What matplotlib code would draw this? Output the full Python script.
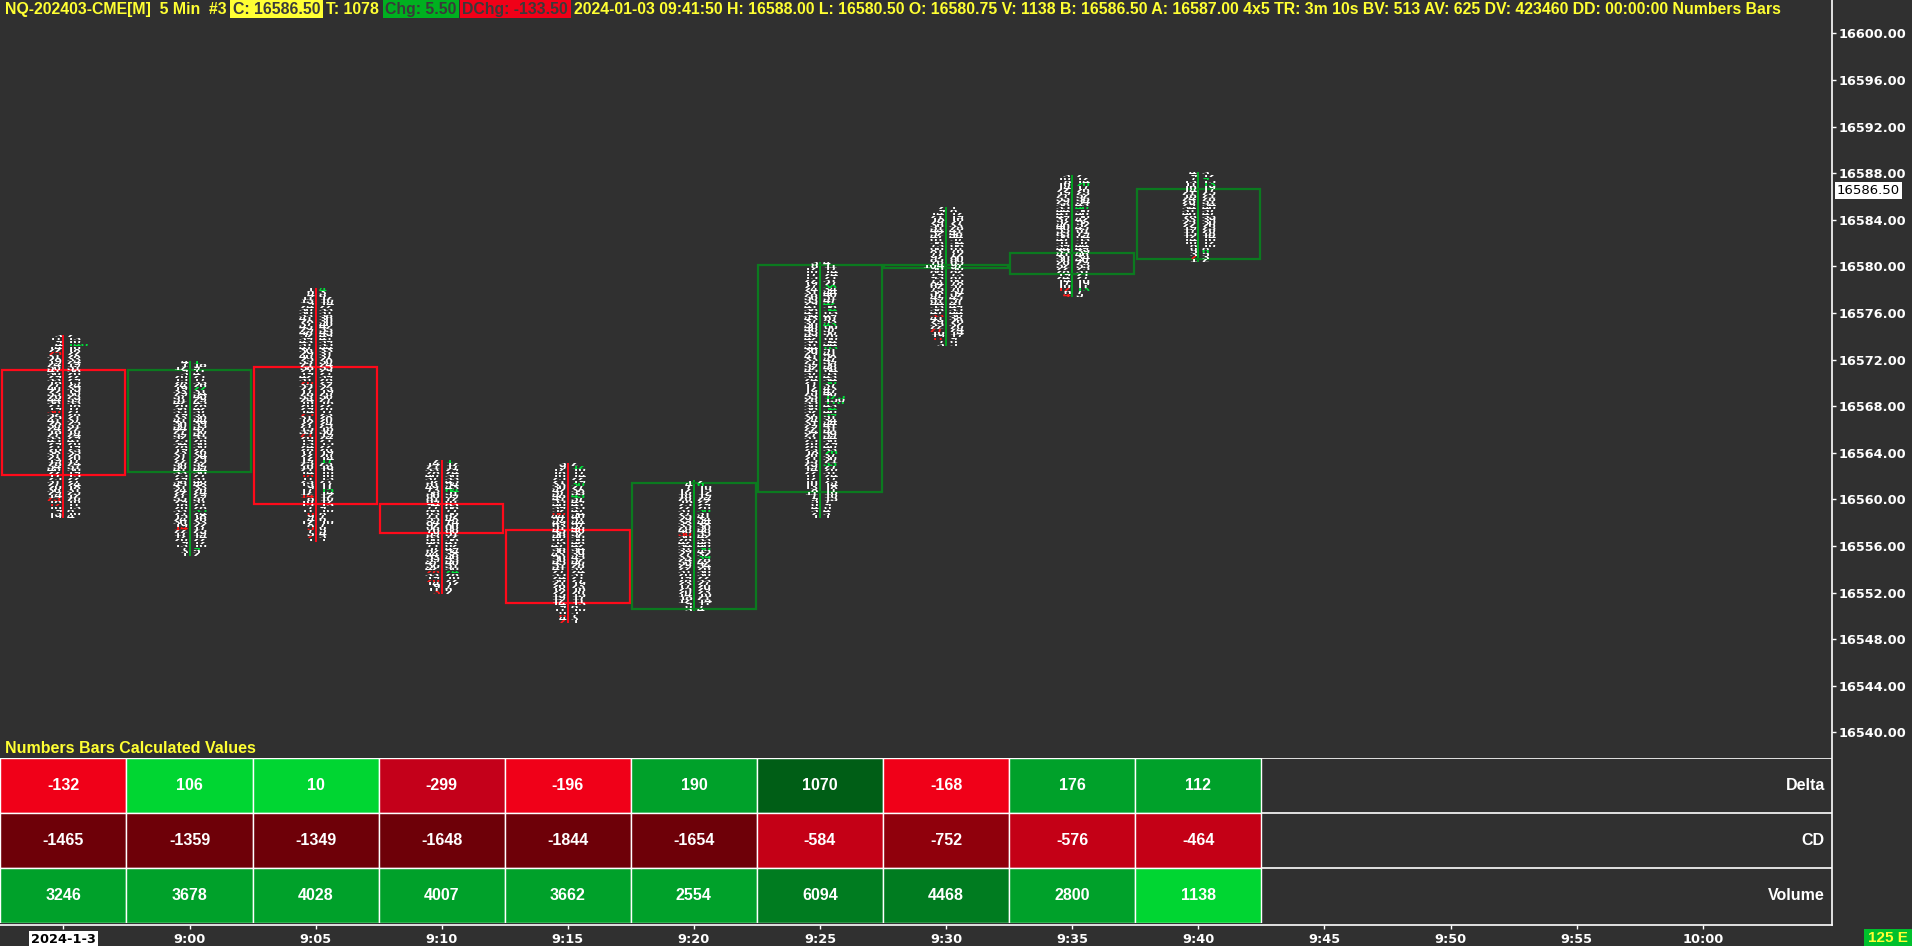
#!/usr/bin/env python3
"""Numbers bars (footprint) chart for NQ 5 min with a calculated-values table."""

import numpy as np
import matplotlib
matplotlib.use('Agg')
import matplotlib.pyplot as plt
from matplotlib.patches import Rectangle
from matplotlib.transforms import Bbox, TransformedBbox, IdentityTransform, blended_transform_factory

# ---- bar data -------------------------------------------------------------
times = ['2024-1-3', '9:00', '9:05', '9:10', '9:15', '9:20', '9:25',
         '9:30', '9:35', '9:40', '9:45', '9:50', '9:55', '10:00']
opens = [16571.00, 16562.50, 16571.25, 16559.50, 16557.25,
         16550.75, 16560.75, 16580.00, 16579.50, 16580.75]
highs = [16574.00, 16571.75, 16578.00, 16563.25, 16563.00,
         16561.50, 16580.25, 16585.00, 16587.75, 16588.00]
lows = [16558.50, 16555.25, 16556.50, 16552.00, 16549.50,
        16550.50, 16558.50, 16573.25, 16577.50, 16580.50]
closes = [16562.25, 16571.00, 16559.75, 16557.25, 16551.25,
          16561.25, 16580.00, 16580.00, 16581.00, 16586.50]

# bid / ask volume per price level, listed from the high down to the low
bid_vol = [
    """3 11 9 4 14 22 25 31 28 19 24 36 41 30 29 33 18 27 40 22
       35 26 44 38 21 19 30 32 25 41 28 36 24 18 27 33 45 29 21 26
       38 31 23 19 28 34 40 22 17 25 31 27 20 36 29 14 23 18 12 16
       9 13 19""",
    """4 1 12 9 3 20 15 28 24 19 33 29 37 31 42 26 38 35 29 33
       41 36 30 44 27 39 32 25 34 28 19 23 31 27 22 30 36 41 33 25
       29 38 45 31 24 22 27 35 29 18 26 33 21 15 24 30 19 14 22 17
       12 20 9 13 7 3 1""",
    """1 6 4 11 13 9 24 30 36 33 41 28 37 45 29 48 52 39 43 31
       47 36 29 40 25 33 21 38 27 19 42 31 26 35 22 17 28 33 24 16
       20 29 14 25 31 18 22 27 15 33 21 26 19 13 24 28 17 22 12 19
       25 16 21 14 18 11 23 15 9 17 12 14 8 10 15 7 11 6 9 4
       12 8 5 7 3 2 1""",
    """2 14 21 33 28 40 37 52 61 49 73 58 66 81 69 94 77 88 63 71
       55 84 92 68 76 59 83 66 48 71 57 62 44 53 39 47 36 42 28 33
       19 26 14 9 11 3""",
    """3 9 12 18 16 25 21 33 30 42 37 48 41 55 46 39 52 60 44 57
       49 63 51 45 58 40 62 53 47 38 56 43 50 36 45 31 41 27 35 24
       30 21 26 18 22 15 19 12 14 9 11 6 8 4 2""",
    """1 4 7 12 10 16 20 18 25 22 31 27 35 29 38 33 26 40 30 36
       28 42 34 31 39 27 33 24 36 29 22 31 26 19 28 23 17 25 20 14
       18 12 9 6 3""",
    """3 8 12 10 17 15 22 19 27 24 31 28 36 33 29 41 38 45 34 43
       37 30 46 40 35 49 42 38 31 44 36 29 41 33 27 39 32 45 37 30
       24 21 17 12 19 26 33 28 35 30 38 32 27 36 24 31 29 22 34 27
       31 25 20 28 23 18 26 21 15 23 19 14 22 17 12 16 10 13 8 11
       7 9 5 6 4 3 2 1""",
    """2 9 14 21 18 29 36 31 44 52 47 61 58 73 66 81 77 92 85 70
       104 96 88 79 93 71 84 62 75 58 67 49 61 44 53 38 47 33 41 29
       35 22 27 16 19 11 7 3""",
    """3 10 8 16 14 22 19 27 33 29 38 35 44 41 49 37 52 46 40 55
       83 58 47 51 39 44 35 41 30 36 26 32 22 28 19 24 14 17 10 12
       6 4""",
    """4 9 7 13 11 16 14 21 18 24 26 29 34 31 40 28 33 25 22 19
       17 15 12 14 10 8 6 5 3 2 1""",
]
ask_vol = [
    """2 13 10 140 16 18 22 28 33 24 19 31 38 26 22 29 15 24 35 19
       30 23 39 33 18 17 27 28 21 37 25 31 22 16 24 29 41 26 19 23
       35 28 20 17 24 31 36 19 15 22 27 24 18 31 25 12 20 16 11 13
       8 10 4""",
    """1 18 9 11 4 21 17 33 26 22 31 34 40 29 45 28 42 37 31 36
       44 39 33 47 30 41 35 28 36 30 22 26 34 29 25 32 39 44 36 27
       31 40 48 33 26 24 29 37 31 21 28 35 24 18 26 33 22 17 25 19
       14 22 12 16 9 5 2""",
    """4 3 8 12 10 14 22 33 31 38 36 30 40 42 33 45 49 41 39 35
       44 33 31 37 28 30 24 35 29 21 39 28 29 32 25 19 26 30 27 18
       22 26 17 23 28 20 24 25 18 30 19 24 21 15 22 26 19 20 14 17
       23 18 19 16 16 13 21 17 11 15 14 12 10 12 13 9 10 8 7 6
       10 7 6 5 4 3 1""",
    """1 12 17 29 24 36 33 45 54 43 64 51 59 72 61 83 68 77 56 62
       48 74 80 60 66 51 72 58 41 62 49 54 38 46 33 40 31 36 24 28
       16 22 12 7 6 2""",
    """2 12 10 17 14 22 19 30 27 38 33 43 37 49 41 35 47 54 40 51
       44 57 46 40 52 36 56 48 42 34 50 39 45 32 40 28 37 24 31 21
       27 19 23 16 20 13 17 11 13 8 10 5 7 3 1""",
    """2 6 10 15 12 19 24 22 29 26 36 31 41 34 44 38 30 46 35 42
       33 48 40 36 45 32 39 28 42 34 26 36 30 22 33 27 20 29 23 16
       21 14 11 7 4""",
    """4 11 17 14 24 21 31 27 38 34 44 40 51 47 42 58 54 63 49 61
       53 43 66 57 50 70 60 54 44 63 51 41 58 47 39 56 46 64 53 43
       34 30 37 43 47 40 125 150 110 43 54 46 39 51 34 44 41 31 48 39
       44 36 29 40 33 26 37 30 21 33 27 20 31 24 17 23 14 18 11 16
       10 13 7 9 6 4 3 1""",
    """1 8 12 19 16 27 33 28 41 48 44 57 54 68 61 76 72 86 80 65
       97 90 82 73 87 66 78 57 70 54 62 45 57 41 49 35 44 30 38 26
       32 20 24 14 17 9 6 5""",
    """2 12 14 20 17 26 23 32 38 34 43 40 50 46 56 42 58 52 45 61
       79 64 53 57 44 49 39 46 34 40 29 35 25 31 21 27 16 19 11 13
       7 5""",
    """3 12 9 15 13 19 17 25 21 28 31 34 40 37 47 33 39 30 26 23
       20 18 14 16 12 10 8 6 5 3 2""",
]

# imbalance levels: bid side shown red, ask side shown green
bid_imbalance = [
    [16572.50, 16567.50, 16560.00, 16559.50],
    [16557.50],
    [16570.00, 16567.25, 16565.50, 16562.00, 16560.25, 16558.75, 16557.50, 16556.75],
    [16553.75, 16553.00, 16552.00],
    [16558.75, 16550.00, 16549.50],
    [16557.00],
    [],
    [16575.75, 16574.50, 16573.75],
    [16578.00, 16577.50],
    [16580.75],
]
ask_imbalance = [
    [16573.25],
    [16571.75, 16569.50, 16559.00, 16555.75],
    [16578.00, 16563.25, 16560.75],
    [16563.25, 16560.75, 16553.75],
    [16562.75, 16561.25, 16560.25],
    [16561.25, 16559.00, 16555.75, 16555.00],
    [16578.25, 16576.75, 16576.25, 16575.00, 16573.00, 16570.00,
     16568.75, 16568.25, 16567.75, 16567.25, 16564.00, 16563.00],
    [],
    [16587.00, 16585.00, 16578.00],
    [16587.50, 16587.00, 16581.25],
]

# calculated values table
delta = [-132, 106, 10, -299, -196, 190, 1070, -168, 176, 112]
cum_delta = [-1465, -1359, -1349, -1648, -1844, -1654, -584, -752, -576, -464]
volume = [3246, 3678, 4028, 4007, 3662, 2554, 6094, 4468, 2800, 1138]
row_names = ['Delta', 'CD', 'Volume']

y_ticks = np.arange(16540, 16601, 4)
last_price = 16586.50
tick_size = 0.25

# ---- styling ---------------------------------------------------------------
BG = '#303030'
YELLOW = '#ffff33'
UP_BOX = '#0b7a1f'
UP_LINE = '#00a321'
DN_BOX = '#ff0a1a'
TXT_RED = '#ff1a1a'
TXT_GREEN = '#00e03a'
SANS = 'Liberation Sans'
W, H = 1912, 946


def delta_color(d, v):
    r = abs(d) / v
    if d >= 0:
        return '#00d632' if r < 0.06 else ('#00a12a' if r < 0.15 else '#005e16')
    return '#f00018' if r < 0.06 else ('#c4001a' if r < 0.15 else '#6e0008')


def cd_color(c):
    if c >= 0:
        return '#00a12a'
    a = abs(c)
    return '#6e0008' if a >= 1000 else ('#90000c' if a >= 700 else '#c40016')


def volume_color(v):
    return '#007c20' if v >= 4200 else ('#00a12a' if v >= 2000 else '#00d632')


fig = plt.figure(figsize=(W / 100, H / 100), dpi=100, facecolor=BG)

# price pane: pixel rows 0..925, price axis at x=1832
ax = fig.add_axes([0, (H - 925) / H, 1832 / W, 925 / H])
ax.set_facecolor(BG)
px_per_pt = 11.65
ax.set_ylim(16600 - (925 - 33.3) / px_per_pt, 16600 + 33.3 / px_per_pt)
ax.set_xlim(-63.4 / 126.1, (1832 - 63.4) / 126.1)
for side in ('top', 'left'):
    ax.spines[side].set_visible(False)
for side in ('right', 'bottom'):
    ax.spines[side].set_color('white')
    ax.spines[side].set_linewidth(1.2)

ax.yaxis.tick_right()
ax.set_yticks(y_ticks)
ax.set_yticklabels([f'{v:.2f}' for v in y_ticks])
ax.tick_params(axis='y', colors='white', length=3, width=1, pad=1.5, labelsize=9.3)
ax.set_xticks(range(len(times)))
ax.set_xticklabels(times)
ax.tick_params(axis='x', colors='white', length=3, width=1, pad=2.5, labelsize=9.3)
for lab in ax.get_yticklabels() + ax.get_xticklabels():
    lab.set_fontweight('bold')
    lab.set_family('DejaVu Sans')
date_lab = ax.get_xticklabels()[0]
date_lab.set_color('black')
date_lab.set_bbox(dict(facecolor='white', edgecolor='none', boxstyle='square,pad=0.15'))

# last price tag on the scale
ax.text(1.0027, last_price, f'{last_price:.2f}',
        transform=blended_transform_factory(ax.transAxes, ax.transData),
        ha='left', va='center', fontsize=9.5, color='black', family='DejaVu Sans',
        bbox=dict(facecolor='white', edgecolor='none', boxstyle='square,pad=0.12'),
        clip_on=False)

# ---- footprint bars --------------------------------------------------------
FP_SIZE = 9.5
for i in range(len(opens)):
    o, c, hi, lo = opens[i], closes[i], highs[i], lows[i]
    up = c >= o
    ax.plot([i, i], [lo - tick_size / 2, hi + tick_size / 2],
            color=UP_LINE if up else DN_BOX, lw=1.4, zorder=2,
            solid_capstyle='butt')
    body_lo = min(o, c) - tick_size / 2
    body_h = abs(c - o) + tick_size
    ax.add_patch(Rectangle((i - 0.49, body_lo), 0.98, body_h, fill=False,
                           edgecolor=UP_BOX if up else DN_BOX, lw=1.6, zorder=3))

    bids = [int(v) for v in bid_vol[i].split()]
    asks = [int(v) for v in ask_vol[i].split()]
    levels = hi - tick_size * np.arange(len(bids))
    red_set = set(bid_imbalance[i])
    green_set = set(ask_imbalance[i])
    for p, b, a in zip(levels, bids, asks):
        # each level is clipped to its own row so the stacked numbers stay striped
        clip = TransformedBbox(Bbox([[i - 0.5, p - 0.11], [i + 0.5, p + 0.11]]),
                               ax.transData)
        tb = ax.text(i - 0.013, p, str(b), ha='right', va='center',
                     fontsize=FP_SIZE, fontweight='bold', family=SANS,
                     color=TXT_RED if p in red_set else 'white',
                     clip_on=True, zorder=4)
        tb.set_clip_box(clip)
        ta = ax.text(i + 0.024, p, str(a), ha='left', va='center',
                     fontsize=FP_SIZE, fontweight='bold', family=SANS,
                     color=TXT_GREEN if p in green_set else 'white',
                     clip_on=True, zorder=4)
        ta.set_clip_box(clip)

# ---- calculated values table ----------------------------------------------
axt = fig.add_axes([0, (H - 923) / H, 1832 / W, (923 - 758) / H], sharex=ax)
axt.set_facecolor('none')
axt.set_ylim(0, 3)
axt.axis('off')
for y in (1, 2, 3):
    axt.axhline(y, color='white', lw=1.2, zorder=1)

rows = [(2, delta, [delta_color(d, v) for d, v in zip(delta, volume)]),
        (1, cum_delta, [cd_color(c) for c in cum_delta]),
        (0, volume, [volume_color(v) for v in volume])]
for y0, values, colors in rows:
    for i, (v, col) in enumerate(zip(values, colors)):
        axt.add_patch(Rectangle((i - 0.5, y0), 1, 1, facecolor=col,
                                edgecolor='white', lw=1.0, zorder=2))
        axt.text(i, y0 + 0.5, str(v), ha='center', va='center', color='white',
                 fontsize=11.5, fontweight='bold', family=SANS, zorder=3)

for k, name in enumerate(row_names):
    axt.text(1825 / 1832, 2.5 - k, name, transform=blended_transform_factory(axt.transAxes, axt.transData),
             ha='right', va='center', color='white', fontsize=11.5,
             fontweight='bold', family=SANS)

fig.text(5, H - 748, 'Numbers Bars Calculated Values', transform=IdentityTransform(),
         ha='left', va='center', color=YELLOW, fontsize=11.5, fontweight='bold', family=SANS)

# ---- header line -----------------------------------------------------------
header_runs = [
    ('NQ-202403-CME[M]  5 Min  #3', YELLOW, None),
    ('C: 16586.50', '#3a3a3a', '#ffff33'),
    ('T: 1078', YELLOW, None),
    ('Chg: 5.50', '#3a3a3a', '#00b020'),
    ('DChg: -133.50', '#3a3a3a', '#f00018'),
    ('2024-01-03 09:41:50 H: 16588.00 L: 16580.50 O: 16580.75 V: 1138 '
     'B: 16586.50 A: 16587.00 4x5 TR: 3m 10s BV: 513 AV: 625 DV: 423460 '
     'DD: 00:00:00 Numbers Bars', YELLOW, None),
]
renderer = fig.canvas.get_renderer()
gap = 6


def run_width(s, fs):
    t = fig.text(0, 0, s, fontsize=fs, fontweight='bold', family=SANS)
    w = t.get_window_extent(renderer).width
    t.remove()
    return w


fs = 11.0
text_w = sum(run_width(s, fs) for s, _, _ in header_runs)
fs *= (1779 - gap * (len(header_runs) - 1)) / text_w

x = 5
for s, fg, bg in header_runs:
    t = fig.text(x, H - 9, s, transform=IdentityTransform(), ha='left', va='center',
                 fontsize=fs, fontweight='bold', family=SANS, color=fg, zorder=5)
    w = t.get_window_extent(renderer).width
    if bg is not None:
        fig.add_artist(Rectangle((x - 2.5, H - 18), w + 5, 18, transform=IdentityTransform(),
                                 facecolor=bg, edgecolor='none', zorder=4))
    x += w + gap

# status box at the bottom right
fig.add_artist(Rectangle((1864, 0), 48, 17, transform=IdentityTransform(),
                         facecolor='#00c02c', edgecolor='none', zorder=4))
fig.text(1888, 8.5, '125 E', transform=IdentityTransform(), ha='center', va='center',
         fontsize=11, fontweight='bold', family=SANS, color=YELLOW, zorder=5)

fig.savefig('out.png', dpi=100, facecolor=BG)
